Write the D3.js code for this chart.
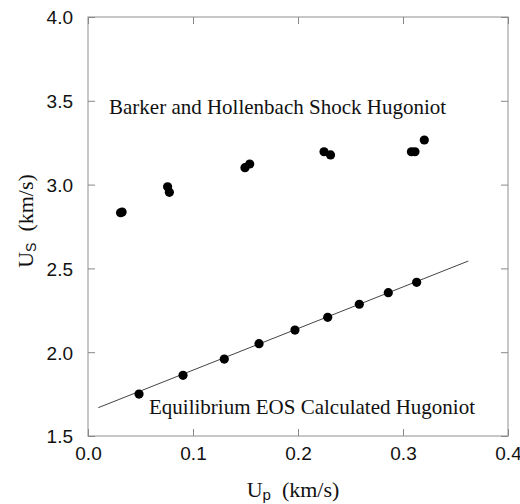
<!DOCTYPE html>
<html>
<head>
<meta charset="utf-8">
<script src="https://cdn.jsdelivr.net/npm/d3@7"></script>
<style>
	body { margin: 0; background: #fff; }
</style>
</head>
<body>
<svg id="chart" width="520" height="504"></svg>
<script>
// Barker and Hollenbach shock Hugoniot (measured)
const barkerUp = [0.031, 0.0325, 0.0758, 0.0775, 0.1495, 0.154, 0.2248, 0.231, 0.308, 0.3114, 0.3203];
const barkerUs = [2.832, 2.836, 2.987, 2.954, 3.101, 3.123, 3.196, 3.177, 3.196, 3.196, 3.266];

// Equilibrium EOS calculated Hugoniot points
const eosUp = [0.0486, 0.0905, 0.1298, 0.1629, 0.1971, 0.2283, 0.2584, 0.286, 0.313];
const eosUs = [1.750, 1.862, 1.959, 2.051, 2.132, 2.208, 2.286, 2.355, 2.417];

// fitted line end points
const lineUp = [0.0098, 0.3622];
const lineUs = [1.669, 2.544];

const xTicks = [0.0, 0.1, 0.2, 0.3, 0.4];
const yTicks = [1.5, 2.0, 2.5, 3.0, 3.5, 4.0];

const labelTop = "Barker and Hollenbach Shock Hugoniot";
const labelBottom = "Equilibrium EOS Calculated Hugoniot";

const SANS = "'Liberation Sans', Arial, Helvetica, sans-serif";
const SERIF = "'Liberation Serif', 'Times New Roman', Times, serif";

const svg = d3.select("#chart");
const margin = {left: 88, top: 17, right: 12, bottom: 68};
const width = 520 - margin.left - margin.right;
const height = 504 - margin.top - margin.bottom;

const x = d3.scaleLinear().domain([0, 0.4]).range([margin.left, margin.left + width]);
const y = d3.scaleLinear().domain([1.5, 4.0]).range([margin.top + height, margin.top]);

const tickLen = 7;

// frame
svg.append("rect")
	.attr("x", x(0)).attr("y", y(4))
	.attr("width", x(0.4) - x(0)).attr("height", y(1.5) - y(4))
	.attr("fill", "none").attr("stroke", "#aaa").attr("stroke-width", 1.3);

// inward ticks on all four sides
function drawAxis(ax, tx, ty) {
	const g = svg.append("g")
		.attr("transform", `translate(${tx},${ty})`)
		.call(ax);
	g.select(".domain").remove();
	g.selectAll(".tick line").attr("stroke", "#888").attr("stroke-width", 1);
	g.attr("font-family", null).attr("font-size", null);
	g.selectAll(".tick text")
		.attr("fill", "#111")
		.style("font-family", SANS)
		.style("font-size", "19px");
	return g;
}

const gx = drawAxis(d3.axisBottom(x).tickValues(xTicks).tickSizeInner(-tickLen).tickSizeOuter(0)
	.tickFormat(d3.format(".1f")), 0, y(1.5));
gx.selectAll(".tick text").attr("y", 11).attr("dy", "0.71em");

drawAxis(d3.axisTop(x).tickValues(xTicks).tickSizeInner(-tickLen).tickSizeOuter(0).tickFormat(""), 0, y(4));

const gy = drawAxis(d3.axisLeft(y).tickValues(yTicks).tickSizeInner(-tickLen).tickSizeOuter(0)
	.tickFormat(d3.format(".1f")), x(0), 0);
gy.selectAll(".tick text").attr("x", -15).attr("dy", "0.36em");

drawAxis(d3.axisRight(y).tickValues(yTicks).tickSizeInner(-tickLen).tickSizeOuter(0).tickFormat(""), x(0.4), 0);

// fitted line
svg.append("line")
	.attr("x1", x(lineUp[0])).attr("y1", y(lineUs[0]))
	.attr("x2", x(lineUp[1])).attr("y2", y(lineUs[1]))
	.attr("stroke", "#444").attr("stroke-width", 1);

// points
svg.append("g").selectAll("circle")
	.data(barkerUp.map((u, i) => [u, barkerUs[i]]))
	.join("circle")
	.attr("cx", d => x(d[0])).attr("cy", d => y(d[1]))
	.attr("r", 4.6).attr("fill", "#000");

svg.append("g").selectAll("circle")
	.data(eosUp.map((u, i) => [u, eosUs[i]]))
	.join("circle")
	.attr("cx", d => x(d[0])).attr("cy", d => y(d[1]))
	.attr("r", 4.6).attr("fill", "#000");

// annotations
svg.append("text")
	.attr("x", 109).attr("y", 114)
	.style("font-family", SERIF).style("font-size", "21px").attr("fill", "#111")
	.text(labelTop);
svg.append("text")
	.attr("x", 149).attr("y", 414)
	.style("font-family", SERIF).style("font-size", "21px").attr("fill", "#111")
	.text(labelBottom);

// axis titles
const xt = svg.append("text")
	.attr("x", 293).attr("y", 497).attr("text-anchor", "middle")
	.style("font-family", SERIF).style("font-size", "22px").attr("fill", "#111");
xt.append("tspan").text("U");
xt.append("tspan").attr("dy", 3).style("font-size", "15px").style("font-family", SANS).text("p");
xt.append("tspan").attr("dy", -3).text("\u00a0 (km/s)");

const yt = svg.append("text")
	.attr("transform", "translate(33,221) rotate(-90)")
	.attr("text-anchor", "middle")
	.style("font-family", SERIF).style("font-size", "22px").attr("fill", "#111");
yt.append("tspan").text("U");
yt.append("tspan").attr("dy", 3).style("font-size", "14px").style("font-family", SANS).text("S");
yt.append("tspan").attr("dy", -3).text("\u00a0 (km/s)");
</script>
</body>
</html>
